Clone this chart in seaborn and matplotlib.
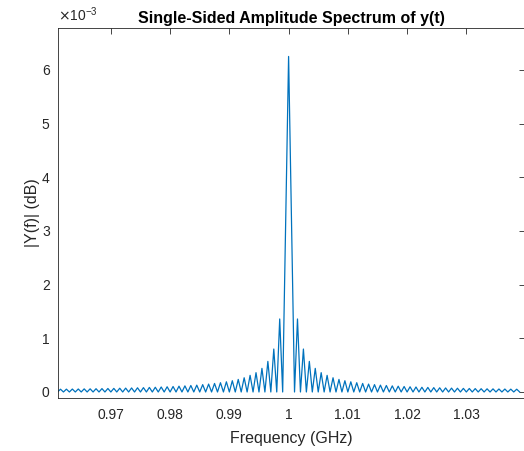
import numpy as np
import pandas as pd
import matplotlib
matplotlib.use("Agg")
import matplotlib.pyplot as plt
import seaborn as sns

# ---- data ----
center_ghz = 1.0
null_spacing_ghz = 0.001          # lobes are ~1 MHz wide
main_peak = 6.25e-3               # |Y(f)| at 1 GHz
# side-lobe peak heights, nearest lobe first (units of 1e-3)
lower_sidelobes = [1.36, 0.80, 0.57, 0.44, 0.36, 0.31, 0.265, 0.234, 0.21, 0.19,
                   0.173, 0.159, 0.147, 0.137, 0.128, 0.121, 0.114, 0.108, 0.102, 0.097,
                   0.093, 0.088, 0.085, 0.081, 0.078, 0.075, 0.072, 0.070, 0.067, 0.065,
                   0.063, 0.061, 0.059, 0.058, 0.056, 0.055, 0.053, 0.052]
upper_sidelobes = [1.36, 0.80, 0.57, 0.44, 0.36, 0.31, 0.265, 0.234, 0.21, 0.19,
                   0.173, 0.159, 0.147, 0.137, 0.128, 0.121, 0.114, 0.108, 0.102, 0.097,
                   0.093, 0.088, 0.085, 0.081, 0.078, 0.075, 0.072, 0.070, 0.067, 0.065,
                   0.063, 0.061, 0.059, 0.058, 0.056, 0.055, 0.053, 0.052]
x_ticks = [0.97, 0.98, 0.99, 1.00, 1.01, 1.02, 1.03]
x_tick_labels = ["0.97", "0.98", "0.99", "1", "1.01", "1.02", "1.03"]
y_ticks = [0, 1e-3, 2e-3, 3e-3, 4e-3, 5e-3, 6e-3]
y_tick_labels = ["0", "1", "2", "3", "4", "5", "6"]

# ---- assemble polyline: nulls and lobe peaks in frequency order ----
freqs, amps = [], []
n = len(lower_sidelobes)
for k in range(n, 0, -1):
    freqs += [center_ghz - (k + 1) * null_spacing_ghz, center_ghz - (k + 0.5) * null_spacing_ghz]
    amps += [0.0, lower_sidelobes[k - 1] * 1e-3]
freqs += [center_ghz - null_spacing_ghz, center_ghz]
amps += [0.0, main_peak]
for k in range(1, n + 1):
    freqs += [center_ghz + k * null_spacing_ghz, center_ghz + (k + 0.5) * null_spacing_ghz]
    amps += [0.0, upper_sidelobes[k - 1] * 1e-3]
freqs.append(center_ghz + (n + 1) * null_spacing_ghz)
amps.append(0.0)
df = pd.DataFrame({"f": freqs, "a": amps})

# ---- style ----
sns.set_theme(style="white")
plt.rcParams["font.family"] = ["Liberation Sans", "DejaVu Sans"]
txt = "#262626"

fig = plt.figure(figsize=(5.24, 4.51), dpi=100)
ax = fig.add_axes([58 / 524, 53 / 451, 467 / 524, 370 / 451])
sns.lineplot(data=df, x="f", y="a", ax=ax, color="#0072BD", linewidth=0.9,
             sort=False, estimator=None)

ax.set_xlim(0.96108, 1.0399)
ax.set_ylim(-0.112e-3, 6.78e-3)
ax.set_xticks(x_ticks)
ax.set_xticklabels(x_tick_labels)
ax.set_yticks(y_ticks)
ax.set_yticklabels(y_tick_labels)
ax.text(0.0, 1.012, r"$\times\mathregular{10^{-3}}$", transform=ax.transAxes,
        ha="left", va="bottom", fontsize=10, color=txt)

ax.tick_params(direction="in", length=4, width=0.6, colors=txt, labelsize=10,
               top=True, right=True)
ax.tick_params(axis="x", pad=7)
ax.tick_params(axis="y", pad=6)
for s in ax.spines.values():
    s.set_color(txt)
    s.set_linewidth(0.6)

ax.set_xlabel("Frequency (GHz)", fontsize=11.5, color=txt, labelpad=6.5)
ax.set_ylabel("|Y(f)| (dB)", fontsize=11.5, color=txt, labelpad=1.5)
ax.set_title("Single-Sided Amplitude Spectrum of y(t)", fontsize=11.5,
             fontweight="bold", color="black", pad=3.5)

fig.savefig("out.png", dpi=100)
